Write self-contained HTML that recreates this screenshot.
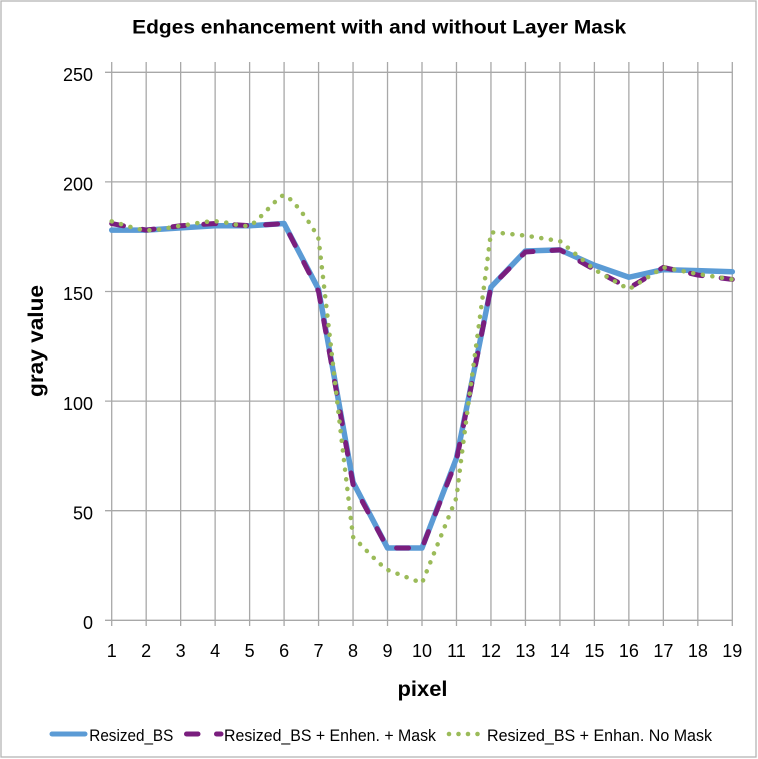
<!DOCTYPE html>
<html>
<head>
<meta charset="utf-8">
<style>
html,body{margin:0;padding:0;background:#fff;}
svg{display:block;}
text{font-family:"Liberation Sans",Arial,sans-serif;fill:#000;}
</style>
</head>
<body>
<svg width="758" height="759" viewBox="0 0 758 759" xmlns="http://www.w3.org/2000/svg">
<rect x="0" y="0" width="758" height="759" fill="#fff"/>
<rect x="1" y="1" width="755" height="756" fill="none" stroke="#b5b5b5" stroke-width="1.3"/>

<text x="379.2" y="33.5" font-size="19" font-weight="bold" text-anchor="middle" textLength="494" lengthAdjust="spacingAndGlyphs">Edges enhancement with and without Layer Mask</text>

<g stroke="#a8a8a8" stroke-width="1.3" fill="none">
<line x1="105" y1="620.3" x2="732.3" y2="620.3"/>
<line x1="105" y1="510.7" x2="732.3" y2="510.7"/>
<line x1="105" y1="401.1" x2="732.3" y2="401.1"/>
<line x1="105" y1="291.5" x2="732.3" y2="291.5"/>
<line x1="105" y1="181.9" x2="732.3" y2="181.9"/>
<line x1="105" y1="72.3" x2="732.3" y2="72.3"/>
<line x1="111.70" y1="62" x2="111.70" y2="626"/>
<line x1="146.18" y1="62" x2="146.18" y2="626"/>
<line x1="180.66" y1="62" x2="180.66" y2="626"/>
<line x1="215.13" y1="62" x2="215.13" y2="626"/>
<line x1="249.61" y1="62" x2="249.61" y2="626"/>
<line x1="284.09" y1="62" x2="284.09" y2="626"/>
<line x1="318.57" y1="62" x2="318.57" y2="626"/>
<line x1="353.05" y1="62" x2="353.05" y2="626"/>
<line x1="387.52" y1="62" x2="387.52" y2="626"/>
<line x1="422.00" y1="62" x2="422.00" y2="626"/>
<line x1="456.48" y1="62" x2="456.48" y2="626"/>
<line x1="490.96" y1="62" x2="490.96" y2="626"/>
<line x1="525.44" y1="62" x2="525.44" y2="626"/>
<line x1="559.91" y1="62" x2="559.91" y2="626"/>
<line x1="594.39" y1="62" x2="594.39" y2="626"/>
<line x1="628.87" y1="62" x2="628.87" y2="626"/>
<line x1="663.35" y1="62" x2="663.35" y2="626"/>
<line x1="697.83" y1="62" x2="697.83" y2="626"/>
<line x1="732.30" y1="62" x2="732.30" y2="626"/>
</g>

<g font-size="18" text-anchor="end">
<text x="93" y="629">0</text>
<text x="93" y="519.4">50</text>
<text x="93" y="409.8">100</text>
<text x="93" y="300.2">150</text>
<text x="93" y="190.6">200</text>
<text x="93" y="81">250</text>
</g>
<g font-size="18" text-anchor="middle">
<text x="111.70" y="657">1</text>
<text x="146.18" y="657">2</text>
<text x="180.66" y="657">3</text>
<text x="215.13" y="657">4</text>
<text x="249.61" y="657">5</text>
<text x="284.09" y="657">6</text>
<text x="318.57" y="657">7</text>
<text x="353.05" y="657">8</text>
<text x="387.52" y="657">9</text>
<text x="422.00" y="657">10</text>
<text x="456.48" y="657">11</text>
<text x="490.96" y="657">12</text>
<text x="525.44" y="657">13</text>
<text x="559.91" y="657">14</text>
<text x="594.39" y="657">15</text>
<text x="628.87" y="657">16</text>
<text x="663.35" y="657">17</text>
<text x="697.83" y="657">18</text>
<text x="732.30" y="657">19</text>
</g>

<text x="422.5" y="696" font-size="21" font-weight="bold" text-anchor="middle" textLength="50" lengthAdjust="spacingAndGlyphs">pixel</text>
<text transform="translate(43,341) rotate(-90)" x="0" y="0" font-size="21" font-weight="bold" text-anchor="middle" textLength="112" lengthAdjust="spacingAndGlyphs">gray value</text>

<!-- Blue: Resized_BS -->
<polyline fill="none" stroke="#5B9BD5" stroke-width="5.5" stroke-linejoin="round" stroke-linecap="round"
points="111.70,230.12 146.18,230.12 180.66,227.93 215.13,225.74 249.61,225.74 284.09,223.55 318.57,289.31 353.05,482.20 387.52,547.96 422.00,547.96 456.48,458.09 490.96,287.12 525.44,250.95 559.91,249.85 594.39,265.20 628.87,277.25 663.35,269.58 697.83,270.68 732.30,271.77"/>

<!-- Purple: Enhen + Mask -->
<polyline fill="none" stroke="#7A1E7E" stroke-width="5" stroke-linejoin="round" stroke-linecap="round" stroke-dasharray="12 19"
points="111.70,223.55 146.18,230.12 180.66,225.74 215.13,223.55 249.61,225.74 284.09,223.55 318.57,291.50 353.05,484.40 387.52,547.96 422.00,547.96 456.48,460.28 490.96,287.12 525.44,252.04 559.91,249.85 594.39,269.58 628.87,288.21 663.35,267.39 697.83,275.06 732.30,279.44"/>

<!-- Green: No Mask (dotted) -->
<path fill="none" stroke="#9BBB59" stroke-width="4.5" stroke-linecap="round" stroke-linejoin="round" stroke-dasharray="0.1 9.6"
d="M111.70,221.36
C121.00,223.80 136.50,229.50 146.18,230.12
C157.74,230.85 169.17,227.20 180.66,225.74
C192.15,224.28 203.54,221.36 215.13,221.36
C226.72,221.36 240.00,227.00 249.61,225.74
C258.00,222.00 278.00,196.00 284.09,195.05
C291.00,196.50 312.00,224.00 318.57,238.89
C330.00,337.00 341.00,437.00 353.05,537.00
C364.50,548.00 376.00,561.50 387.52,569.88
C399.00,574.30 410.50,578.70 422.00,583.04
C433.50,554.50 445.00,526.00 456.48,497.55
C467.00,410.00 480.00,320.00 490.96,232.32
C502.50,233.00 514.00,234.50 525.44,235.61
C537.00,237.40 548.40,239.30 559.91,241.08
C571.40,250.60 582.90,260.10 594.39,269.58
C605.90,276.20 617.40,282.70 628.87,289.31
C640.40,282.00 651.90,274.70 663.35,267.39
C674.90,269.60 686.30,271.80 697.83,273.97
C709.30,275.80 720.80,277.60 732.30,279.44"/>

<!-- Legend -->
<line x1="52" y1="734" x2="85" y2="734" stroke="#5B9BD5" stroke-width="5" stroke-linecap="round"/>
<text x="89.3" y="741" font-size="17" textLength="84" lengthAdjust="spacingAndGlyphs">Resized_BS</text>

<line x1="186.5" y1="734" x2="198" y2="734" stroke="#7A1E7E" stroke-width="5" stroke-linecap="round"/>
<line x1="216.5" y1="734" x2="221" y2="734" stroke="#7A1E7E" stroke-width="5" stroke-linecap="round"/>
<text x="224" y="741" font-size="17" textLength="212" lengthAdjust="spacingAndGlyphs">Resized_BS + Enhen. + Mask</text>

<g fill="#9BBB59">
<circle cx="449" cy="734" r="2.3"/>
<circle cx="458.5" cy="734" r="2.3"/>
<circle cx="468" cy="734" r="2.3"/>
<circle cx="477.5" cy="734" r="2.3"/>
</g>
<text x="487" y="741" font-size="17" textLength="225" lengthAdjust="spacingAndGlyphs">Resized_BS + Enhan. No Mask</text>
</svg>
</body>
</html>
